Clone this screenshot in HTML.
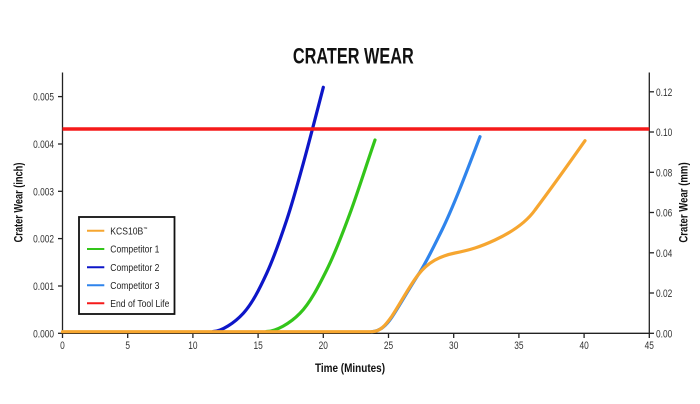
<!DOCTYPE html>
<html><head><meta charset="utf-8"><style>
html,body{margin:0;padding:0;background:#fff;}
svg{display:block;}
text{font-family:"Liberation Sans",Arial,sans-serif;}
</style></head><body>
<svg width="700" height="404" viewBox="0 0 700 404" xmlns="http://www.w3.org/2000/svg">
<rect width="700" height="404" fill="#fff"/>
<!-- Title -->
<text transform="translate(353.3,63.3) scale(0.74,1)" text-anchor="middle" font-size="22" font-weight="bold" fill="#111">CRATER WEAR</text>

<!-- Axes -->
<g stroke="#222" stroke-width="1.3" fill="none">
<line x1="62.5" y1="72.5" x2="62.5" y2="333.8"/>
<line x1="649.3" y1="72.5" x2="649.3" y2="333.8"/>
<line x1="62" y1="333.3" x2="649.8" y2="333.3"/>
<!-- left ticks -->
<line x1="58" y1="333.3" x2="62.5" y2="333.3"/>
<line x1="58" y1="286" x2="62.5" y2="286"/>
<line x1="58" y1="238.6" x2="62.5" y2="238.6"/>
<line x1="58" y1="191.3" x2="62.5" y2="191.3"/>
<line x1="58" y1="144" x2="62.5" y2="144"/>
<line x1="58" y1="96.6" x2="62.5" y2="96.6"/>
<!-- right ticks -->
<line x1="649.3" y1="333.3" x2="654" y2="333.3"/>
<line x1="649.3" y1="293" x2="654" y2="293"/>
<line x1="649.3" y1="252.8" x2="654" y2="252.8"/>
<line x1="649.3" y1="212.5" x2="654" y2="212.5"/>
<line x1="649.3" y1="172.3" x2="654" y2="172.3"/>
<line x1="649.3" y1="132" x2="654" y2="132"/>
<line x1="649.3" y1="91.8" x2="654" y2="91.8"/>
<!-- bottom ticks -->
<line x1="62.5" y1="333.3" x2="62.5" y2="338"/>
<line x1="127.7" y1="333.3" x2="127.7" y2="338"/>
<line x1="192.9" y1="333.3" x2="192.9" y2="338"/>
<line x1="258.1" y1="333.3" x2="258.1" y2="338"/>
<line x1="323.3" y1="333.3" x2="323.3" y2="338"/>
<line x1="388.5" y1="333.3" x2="388.5" y2="338"/>
<line x1="453.7" y1="333.3" x2="453.7" y2="338"/>
<line x1="518.9" y1="333.3" x2="518.9" y2="338"/>
<line x1="584.1" y1="333.3" x2="584.1" y2="338"/>
<line x1="649.3" y1="333.3" x2="649.3" y2="338"/>
</g>

<!-- left tick labels -->
<g font-size="11" fill="#333" text-anchor="end">
<text transform="translate(54,337.3) scale(0.76,1)">0.000</text>
<text transform="translate(54,290) scale(0.76,1)">0.001</text>
<text transform="translate(54,242.6) scale(0.76,1)">0.002</text>
<text transform="translate(54,195.3) scale(0.76,1)">0.003</text>
<text transform="translate(54,148) scale(0.76,1)">0.004</text>
<text transform="translate(54,100.6) scale(0.76,1)">0.005</text>
</g>
<!-- right tick labels -->
<g font-size="11" fill="#333" text-anchor="start">
<text transform="translate(656,337.3) scale(0.76,1)">0.00</text>
<text transform="translate(656,297) scale(0.76,1)">0.02</text>
<text transform="translate(656,256.8) scale(0.76,1)">0.04</text>
<text transform="translate(656,216.5) scale(0.76,1)">0.06</text>
<text transform="translate(656,176.3) scale(0.76,1)">0.08</text>
<text transform="translate(656,136) scale(0.76,1)">0.10</text>
<text transform="translate(656,95.8) scale(0.76,1)">0.12</text>
</g>
<!-- bottom tick labels -->
<g font-size="11" fill="#333" text-anchor="middle">
<text transform="translate(62.5,349) scale(0.76,1)">0</text>
<text transform="translate(127.7,349) scale(0.76,1)">5</text>
<text transform="translate(192.9,349) scale(0.76,1)">10</text>
<text transform="translate(258.1,349) scale(0.76,1)">15</text>
<text transform="translate(323.3,349) scale(0.76,1)">20</text>
<text transform="translate(388.5,349) scale(0.76,1)">25</text>
<text transform="translate(453.7,349) scale(0.76,1)">30</text>
<text transform="translate(518.9,349) scale(0.76,1)">35</text>
<text transform="translate(584.1,349) scale(0.76,1)">40</text>
<text transform="translate(649.3,349) scale(0.76,1)">45</text>
</g>

<!-- axis titles -->
<text transform="translate(350,372) scale(0.83,1)" text-anchor="middle" font-size="12" font-weight="bold" fill="#111">Time (Minutes)</text>
<text transform="translate(22.5,202.5) rotate(-90) scale(0.77,1)" text-anchor="middle" font-size="12" font-weight="bold" fill="#111">Crater Wear (inch)</text>
<text transform="translate(687.5,202.5) rotate(-90) scale(0.8,1)" text-anchor="middle" font-size="12" font-weight="bold" fill="#111">Crater Wear (mm)</text>

<!-- series -->
<g fill="none" stroke-width="3.2" stroke-linecap="round" stroke-linejoin="round">
<path stroke="#0d16c8" d="M213.3,331.5 C221.3,331.5 234.4,323 243.3,313.3 C252.2,303.6 259.5,288.9 266.7,273.3 C273.9,257.7 280.6,238.3 286.7,220 C292.8,201.7 297.2,185.4 303.3,163.3 C309.4,141.2 316.7,112.7 323.3,87.3"/>
<path stroke="#33c51a" d="M266.7,331.5 C275.7,331.5 290,323.6 300,313.3 C310,303.1 318.4,286.7 326.7,270 C335,253.3 342,235 350,213.3 C358,191.6 366.5,164.6 375,140"/>
<path stroke="#2f84ec" d="M372,331.7 C380,331 386,326 392,317 C400,305 410,287 420,272 C428,259 436,242 442,230 C455,203 468,168 480,136.7"/>
<path stroke="#f6a630" d="M62.5,331.7 L372,331.7 C380,331.5 385,326 392,316 C400,304 410,285 418,275 C428,262 440,256 455,253 C470,250 480,247 495,240 C510,233 525,224 535,210 C550,190 570,162 585,140.7"/>
</g>
<line x1="62.5" y1="129" x2="649.3" y2="129" stroke="#f51a1a" stroke-width="3.5"/>

<!-- legend -->
<rect x="79" y="217" width="95.5" height="97" fill="#fff" stroke="#111" stroke-width="1.8"/>
<g stroke-width="2">
<line x1="87" y1="230.7" x2="104.3" y2="230.7" stroke="#f6a630"/>
<line x1="87" y1="249" x2="104.3" y2="249" stroke="#33c51a"/>
<line x1="87" y1="267.3" x2="104.3" y2="267.3" stroke="#0d16c8"/>
<line x1="87" y1="285.3" x2="104.3" y2="285.3" stroke="#2f84ec"/>
<line x1="87" y1="303.3" x2="104.3" y2="303.3" stroke="#f51a1a"/>
</g>
<g font-size="10" fill="#222">
<text transform="translate(110.3,234.4) scale(0.86,1)">KCS10B<tspan font-size="5" dy="-4">™</tspan></text>
<text transform="translate(110.3,252.7) scale(0.86,1)">Competitor 1</text>
<text transform="translate(110.3,271) scale(0.86,1)">Competitor 2</text>
<text transform="translate(110.3,289) scale(0.86,1)">Competitor 3</text>
<text transform="translate(110.3,307) scale(0.86,1)">End of Tool Life</text>
</g>
</svg>
</body></html>
